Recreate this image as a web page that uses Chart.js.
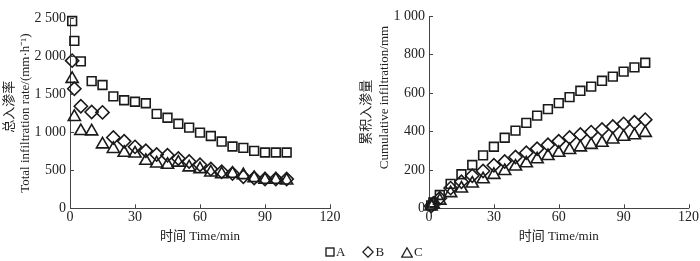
<!DOCTYPE html>
<html>
<head>
<meta charset="utf-8">
<script src="https://cdn.jsdelivr.net/npm/chart.js@4/dist/chart.umd.min.js"></script>
<style>
  html, body { margin: 0; padding: 0; background: #fff; }
  #wrap { position: relative; width: 700px; height: 261px; overflow: hidden; }
  .panel { position: absolute; top: 0; width: 350px; height: 261px; }
  #legend {
    position: absolute; top: 244px; left: 325px; height: 16px;
    font: 13px "Liberation Serif", serif; color: #222;
    display: flex; align-items: center;
  }
  #legend span { display: inline-flex; align-items: center; margin-right: 17px; }
  #legend svg { margin-right: 1px; }
</style>
</head>
<body>
<div id="wrap">
  <div class="panel" style="left:0"><canvas id="rateChart" width="350" height="261"></canvas></div>
  <div class="panel" style="left:350px"><canvas id="cumChart" width="350" height="261"></canvas></div>
  <div id="legend">
    <span><svg width="10" height="10"><rect x="1" y="1" width="8" height="8" fill="#fff" stroke="#222" stroke-width="1.4"/></svg>A</span>
    <span><svg width="12" height="12"><polygon points="6,0.8 11.2,6 6,11.2 0.8,6" fill="#fff" stroke="#222" stroke-width="1.3"/></svg>B</span>
    <span><svg width="12" height="11"><polygon points="6,0.8 11.3,10.2 0.7,10.2" fill="#fff" stroke="#222" stroke-width="1.3"/></svg>C</span>
  </div>
</div>
<script>
// sampling times (min)
const times = [1, 2, 5, 10, 15, 20, 25, 30, 35, 40, 45, 50, 55, 60, 65, 70, 75, 80, 85, 90, 95, 100];

// total infiltration rate (mm/h)
const rateA = [2460, 2200, 1930, 1670, 1620, 1470, 1420, 1400, 1380, 1240, 1190, 1110, 1060, 995, 950, 877, 812, 794, 755, 733, 733, 733];
const rateB = [1940, 1570, 1340, 1265, 1260, 930, 880, 807, 755, 707, 698, 654, 615, 572, 515, 480, 458, 414, 397, 384, 384, 384];
const rateC = [1700, 1200, 1015, 1010, 840, 780, 730, 720, 624, 589, 572, 600, 537, 515, 471, 449, 454, 436, 397, 375, 375, 366];

// cumulative infiltration (mm)
const cumA = [15, 30, 69, 127, 177, 225, 275, 320, 367, 404, 444, 482, 516, 547, 578, 611, 633, 663, 685, 711, 733, 757];
const cumB = [12, 25, 52, 105, 138, 169, 194, 224, 243, 267, 289, 310, 330, 349, 368, 384, 396, 410, 425, 439, 447, 461];
const cumC = [10, 20, 40, 79, 103, 129, 151, 174, 194, 217, 234, 255, 272, 289, 303, 317, 330, 341, 358, 372, 380, 392];

const seriesNames = ["A", "B", "C"];
const markers = ["rect", "rectRot", "triangle"];
const markerSizes = [6.2, 6.6, 7];
const xTicks = [0, 30, 60, 90, 120];

const ink = "#222";
const axisColor = "#444";
const fontFamily = '"Liberation Serif", "Noto Sans CJK SC", serif';

const spaced = (v) => String(v).replace(/\B(?=(\d{3})+(?!\d))/g, " ");

const inwardTicks = {
  id: "inwardTicks",
  afterDraw(chart) {
    const { ctx, chartArea, scales } = chart;
    ctx.save();
    ctx.strokeStyle = axisColor;
    ctx.lineWidth = 1;
    ctx.beginPath();
    scales.x.ticks.forEach((t) => {
      const px = Math.round(scales.x.getPixelForValue(t.value)) + 0.5;
      ctx.moveTo(px, chartArea.bottom);
      ctx.lineTo(px, chartArea.bottom - 4);
    });
    scales.y.ticks.forEach((t) => {
      const py = Math.round(scales.y.getPixelForValue(t.value)) + 0.5;
      ctx.moveTo(chartArea.left, py);
      ctx.lineTo(chartArea.left + 4, py);
    });
    ctx.stroke();
    ctx.restore();
  },
};

function makeDatasets(values) {
  return values.map((vals, i) => ({
    label: seriesNames[i],
    data: times.map((t, k) => ({ x: t, y: vals[k] })),
    showLine: false,
    pointStyle: markers[i],
    pointRadius: markerSizes[i],
    pointBorderWidth: 1.6,
    pointBorderColor: "#1a1a1a",
    pointBackgroundColor: "rgba(255,255,255,0)",
    clip: false,
  }));
}

function makeChart(id, opts) {
  return new Chart(document.getElementById(id), {
    type: "scatter",
    data: { datasets: makeDatasets(opts.values) },
    plugins: [inwardTicks],
    options: {
      responsive: false,
      animation: false,
      devicePixelRatio: 1,
      layout: { padding: opts.padding },
      plugins: { legend: { display: false }, tooltip: { enabled: false } },
      scales: {
        x: {
          type: "linear",
          min: 0,
          max: 120,
          afterBuildTicks: (s) => { s.ticks = xTicks.map((v) => ({ value: v })); },
          ticks: { color: ink, padding: 1, font: { family: fontFamily, size: 14 } },
          grid: { display: true, drawOnChartArea: false, drawTicks: false },
          border: { color: axisColor, width: 1 },
          title: {
            display: true,
            text: "时间 Time/min",
            color: ink,
            padding: { top: 2, bottom: 0 },
            font: { family: fontFamily, size: 13 },
          },
        },
        y: {
          type: "linear",
          min: 0,
          max: opts.yMax,
          afterBuildTicks: (s) => { s.ticks = opts.yTicks.map((v) => ({ value: v })); },
          afterFit: (s) => { s.width = opts.yWidth; },
          ticks: { color: ink, padding: 4, callback: spaced, font: { family: fontFamily, size: 14 } },
          grid: { display: true, drawOnChartArea: false, drawTicks: false },
          border: { color: axisColor, width: 1 },
          title: {
            display: true,
            text: opts.yTitle,
            color: ink,
            padding: { top: opts.titlePad, bottom: 0 },
            font: { family: fontFamily, size: 13, lineHeight: opts.titleLine },
          },
        },
      },
    },
  });
}

makeChart("rateChart", {
  values: [rateA, rateB, rateC],
  yMax: 2500,
  yTicks: [0, 500, 1000, 1500, 2000, 2500],
  yTitle: ["　总入渗率", "Total infiltration rate/(mm·h⁻¹)"],
  yWidth: 70,
  titlePad: 2,
  titleLine: "16px",
  padding: { top: 18, right: 20, bottom: 16.3, left: 0 },
});

makeChart("cumChart", {
  values: [cumA, cumB, cumC],
  yMax: 1000,
  yTicks: [0, 200, 400, 600, 800, 1000],
  yTitle: ["累积入渗量", "         Cumulative infiltration/mm"],
  yWidth: 79,
  titlePad: 8,
  titleLine: "18px",
  padding: { top: 16, right: 10, bottom: 16.3, left: 0 },
});
</script>
</body>
</html>
